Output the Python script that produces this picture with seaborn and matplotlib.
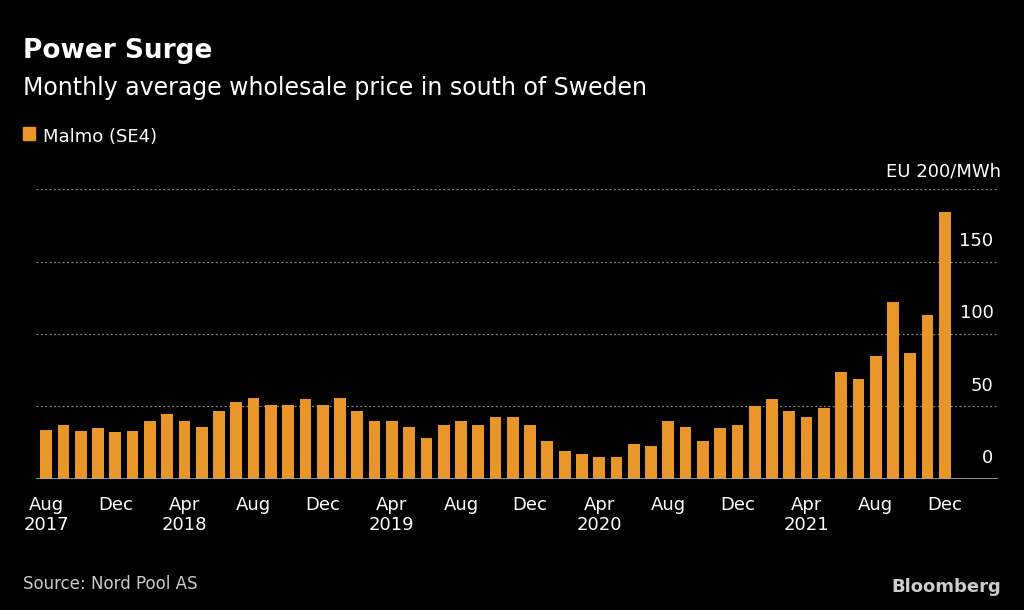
import matplotlib
matplotlib.use("Agg")
import matplotlib.pyplot as plt
import matplotlib.transforms as mtrans
import seaborn as sns
import pandas as pd

prices = [34,37,33,35,32,33,40,45,40,36,47,53,56,51,51,55,51,56,47,40,40,36,28,37,40,37,43,43,37,26,19,17,15,15,24,23,40,36,26,35,37,50,55,47,43,49,74,69,85,122,87,113,184]
tick_labels = ["Aug\n2017","Dec","Apr\n2018","Aug","Dec","Apr\n2019","Aug","Dec","Apr\n2020","Aug","Dec","Apr\n2021","Aug","Dec"]
yticks = [0,50,100,150]

sns.set_style("dark")
plt.rcParams['font.family'] = ['DejaVu Sans']
bg = "black"
fig = plt.figure(figsize=(10.24,6.10), dpi=100, facecolor=bg)
ax = fig.add_axes([0.035, 0.215, 0.94, 0.475])
ax.set_facecolor(bg)
df = pd.DataFrame({"m": range(len(prices)), "p": prices})
sns.barplot(data=df, x="m", y="p", color="#e8962a", saturation=1, width=0.68, ax=ax, edgecolor="none")
ax.set_xlim(-0.6, 55.1)
ax.set_ylim(0, 200)
for y in [50,100,150,200]:
    ax.axhline(y, color="#8a8a8a", lw=0.9, ls=(0,(1.5,2)), zorder=0)
ax.axhline(0, color="#aaaaaa", lw=1.2)
ax.grid(False)
for s in ax.spines.values(): s.set_visible(False)
ax.set_xticks(list(range(0, 53, 4)))
ax.set_xticklabels(tick_labels, color="white", fontsize=13, ha="center", va="top")
ax.tick_params(axis="x", length=6, color="#aaaaaa", pad=6)
ax.set_yticks([])
tr = mtrans.blended_transform_factory(ax.transAxes, ax.transData)
for v in yticks:
    ax.text(0.995, v + 8, str(v), transform=tr, color="white", fontsize=13, ha="right", va="bottom")
ax.set_xlabel(""); ax.set_ylabel("")
fig.text(0.978, 0.71, "EU 200/MWh", color="white", fontsize=13, ha="right")

fig.text(0.022, 0.905, "Power Surge", color="white", fontsize=19, fontweight="bold")
fig.text(0.022, 0.845, "Monthly average wholesale price in south of Sweden", color="white", fontsize=17)
fig.patches.append(plt.Rectangle((0.022, 0.77), 0.012, 0.022, transform=fig.transFigure, color="#e8962a"))
fig.text(0.042, 0.768, "Malmo (SE4)", color="white", fontsize=13)
fig.text(0.022, 0.035, "Source: Nord Pool AS", color="#cccccc", fontsize=12)
fig.text(0.978, 0.03, "Bloomberg", color="#cccccc", fontsize=13, fontweight="bold", ha="right")
fig.savefig("out.png", facecolor=bg)
